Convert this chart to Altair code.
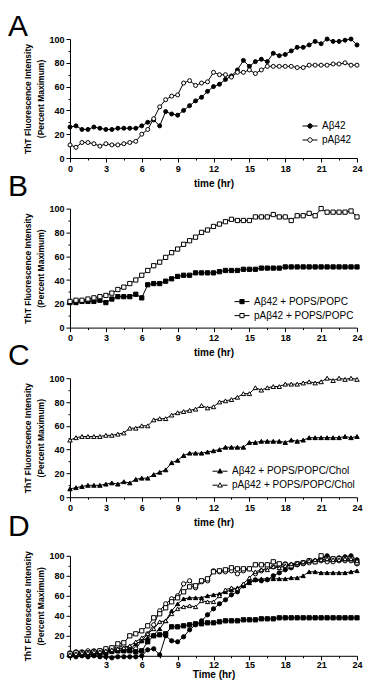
import altair as alt
import pandas as pd

FONT = "Liberation Sans"

TIME = [0, 0.5, 1, 1.5, 2, 2.5, 3, 3.5, 4, 4.5, 5, 5.5, 6, 6.5, 7, 7.5, 8, 8.5, 9, 9.5,
        10, 10.5, 11, 11.5, 12, 12.5, 13, 13.5, 14, 14.5, 15, 15.5, 16, 16.5, 17, 17.5,
        18, 18.5, 19, 19.5, 20, 20.5, 21, 21.5, 22, 22.5, 23, 23.5, 24]

XTICKS = [0, 1.5, 3, 4.5, 6, 7.5, 9, 10.5, 12, 13.5, 15, 16.5, 18, 19.5, 21, 22.5, 24]
YTICKS = [0, 10, 20, 30, 40, 50, 60, 70, 80, 90, 100]

NAMES_A = ["Aβ42", "pAβ42"]
NAMES_B = ["Aβ42 + POPS/POPC", "pAβ42 + POPS/POPC"]
NAMES_C = ["Aβ42 + POPS/POPC/Chol", "pAβ42 + POPS/POPC/Chol"]

A_AB = [26, 27, 24, 24, 26, 25, 24, 24, 25, 25, 25, 25, 27, 30, 32, 27, 39, 37, 36, 40,
        44, 48, 51, 56, 60, 62, 66, 69, 74, 82, 77, 81, 83, 81, 88, 86, 87, 90, 93, 93,
        95, 98, 96, 100, 98, 98, 99, 100, 95]
A_PAB = [11, 9, 13, 13, 12, 10, 12, 11, 11, 12, 13, 14, 20, 24, 33, 43, 49, 52, 53, 63,
         65, 61, 63, 64, 72, 70, 70, 68, 72, 72, 74, 71, 74, 77, 77, 77, 77, 77, 76, 76,
         78, 78, 78, 78, 79, 79, 80, 78, 78]

B_AB = [21, 21, 22, 22, 22, 23, 21, 24, 26, 26, 26, 28, 25, 36, 37, 37, 39, 41, 43, 44,
        44, 46, 46, 46, 46, 47, 48, 48, 48, 49, 49, 49, 50, 50, 50, 50, 51, 51, 51, 51,
        51, 51, 51, 51, 51, 51, 51, 51, 51]
B_PAB = [22, 23, 23, 24, 25, 26, 27, 29, 32, 34, 37, 40, 44, 48, 52, 55, 59, 63, 66, 70,
         73, 76, 80, 82, 85, 87, 89, 91, 90, 90, 90, 93, 93, 93, 95, 93, 93, 90, 94, 94,
         96, 94, 100, 97, 97, 97, 97, 98, 93]

C_AB = [7, 8, 9, 10, 10, 10, 11, 12, 11, 13, 12, 15, 16, 16, 19, 21, 23, 29, 31, 35,
        37, 37, 37, 38, 39, 40, 42, 42, 42, 42, 46, 46, 47, 47, 47, 47, 46, 48, 47, 48,
        50, 50, 50, 50, 50, 50, 51, 50, 51]
C_PAB = [48, 50, 51, 51, 51, 51, 52, 52, 53, 54, 58, 58, 60, 60, 65, 66, 66, 69, 71, 72,
         73, 74, 77, 75, 76, 80, 81, 82, 84, 87, 87, 92, 90, 92, 93, 93, 95, 95, 95, 96,
         97, 96, 97, 100, 98, 100, 99, 100, 99]

D_AB = [0, -1, 0, -1, 0, -1, -1, -2, -1, -1, -1, -1, 0, 6, 7, 1, 20, 15, 14, 19,
        26, 31, 35, 41, 47, 52, 56, 61, 64, 70, 74, 76, 75, 76, 80, 83, 86, 88, 91, 93,
        95, 95, 98, 100, 97, 98, 99, 100, 96]
D_PAB = [3, 4, 4, 5, 5, 5, 6, 7, 9, 10, 8, 7, 15, 22, 31, 45, 52, 57, 60, 72,
         75, 68, 74, 75, 85, 84, 84, 85, 82, 85, 87, 82, 85, 88, 89, 90, 92, 91, 92, 92,
         93, 94, 95, 94, 94, 95, 95, 95, 92]
D_ABP = [1, 2, 2, 1, 2, 2, 3, 5, 5, 5, 5, 4, 5, 14, 20, 21, 22, 29, 29, 30,
         31, 32, 32, 33, 33, 34, 35, 35, 35, 36, 36, 36, 37, 37, 37, 38, 38, 38, 38, 38,
         38, 38, 38, 38, 38, 38, 38, 38, 38]
D_PABP = [2, 3, 3, 3, 4, 5, 7, 8, 12, 13, 20, 22, 25, 30, 38, 42, 48, 54, 58, 64,
          69, 70, 75, 77, 84, 85, 86, 88, 87, 87, 87, 91, 91, 91, 94, 92, 91, 90, 92, 93,
          95, 94, 100, 97, 97, 97, 97, 97, 93]
D_ABC = [0, 1, 2, 1, 2, 3, 4, 4, 5, 6, 6, 12, 15, 18, 21, 27, 35, 45, 52, 57,
         58, 58, 58, 60, 61, 62, 64, 66, 68, 70, 73, 76, 77, 77, 77, 77, 77, 78, 78, 80,
         84, 84, 83, 83, 83, 83, 83, 84, 85]
D_PABC = [1, 2, 3, 3, 4, 4, 5, 6, 7, 8, 10, 14, 18, 22, 27, 34, 35, 42, 47, 49,
          50, 49, 55, 54, 54, 60, 66, 68, 67, 72, 78, 84, 86, 86, 89, 88, 90, 92, 93, 94,
          95, 96, 96, 97, 96, 96, 97, 97, 95]

PATH_CIRCLE = "M-1,0L-0.3,0M0.3,0L1,0M0.3,0A0.3,0.3,0,1,1,-0.3,0A0.3,0.3,0,1,1,0.3,0Z"
PATH_SQUARE = "M-1,0L-0.3,0M0.3,0L1,0M-0.28,-0.28L0.28,-0.28L0.28,0.28L-0.28,0.28Z"
PATH_TRI = "M-1,0L-0.3,0M0.3,0L1,0M0,-0.32L0.32,0.24L-0.32,0.24Z"

PLOT_W = 287
LETTER_X = -62


def x_axis(title, hide_zero, title_pad, label_pad):
    test = "datum.value % 3 === 0" + (" && datum.value > 0" if hide_zero else "")
    return alt.Axis(values=XTICKS, labelExpr=f"({test}) ? datum.label : ''",
                    tickSize={"condition": {"test": "datum.value % 3 === 0", "value": 4}, "value": 2},
                    title=title, titleFont=FONT, titleFontSize=10, titleFontWeight="bold",
                    titlePadding=title_pad, titleColor="black",
                    labelFont=FONT, labelFontSize=9, labelFontWeight="bold", labelColor="black",
                    labelPadding=label_pad, labelOverlap=False, labelFlush=False, labelBound=False,
                    domainColor="black", tickColor="black", grid=False)


def y_axis():
    return alt.Axis(values=YTICKS, labelExpr="datum.value % 20 === 0 ? datum.label : ''",
                    tickSize={"condition": {"test": "datum.value % 20 === 0", "value": 4}, "value": 2},
                    title=["ThT Fluorescence Intensity", "(Percent Maximum)"],
                    titleFont=FONT, titleFontSize=8.5, titleFontWeight="bold", titleLineHeight=13,
                    titlePadding=3, titleColor="black",
                    labelFont=FONT, labelFontSize=9, labelFontWeight="bold", labelColor="black",
                    labelPadding=2, labelOverlap=False, labelFlush=False,
                    domainColor="black", tickColor="black", grid=False)


def panel(names, series, shapes, fills, letter, letter_y, height, xtitle, xtitle_pad,
          hide_zero=False, legend_path=None, legend_xy=None, size=18, yrange=None,
          label_pad=2):
    rows = []
    for n, vals in zip(names, series):
        for tt, vv in zip(TIME, vals):
            rows.append({"t": tt, "v": vv, "s": n})
    df = pd.DataFrame(rows)
    x = alt.X("t:Q", scale=alt.Scale(domain=[0, 24], nice=False, zero=False),
              axis=x_axis(xtitle, hide_zero, xtitle_pad, label_pad))
    if yrange is not None:
        yscale = alt.Scale(domain=[0, 100], nice=False, range=yrange)
    else:
        yscale = alt.Scale(domain=[0, 100], nice=False)
    y = alt.Y("v:Q", scale=yscale, axis=y_axis())
    base = alt.Chart(df)
    line = base.mark_line(color="black", strokeWidth=1).encode(
        x=x, y=y, detail="s:N", order="t:Q")
    if legend_path is not None:
        leg = alt.Legend(orient="none", legendX=legend_xy[0], legendY=legend_xy[1], title=None,
                         symbolType=legend_path, symbolSize=225, symbolStrokeWidth=1,
                         symbolStrokeColor="black", labelFont=FONT, labelFontSize=10,
                         labelColor="black", labelOffset=4, rowPadding=1, padding=0,
                         labelLimit=300,
                         labelExpr="indexof(datum.label, 'p') === 0 ? datum.label : '\u00a0\u00a0' + datum.label")
        pts = base.mark_point(filled=True, shape=shapes[0], size=size, stroke="black",
                              strokeWidth=1, opacity=1).encode(
            x=x, y=y,
            fill=alt.Fill("s:N", scale=alt.Scale(domain=names, range=fills), legend=leg))
    else:
        pts = base.mark_point(filled=True, size=size, stroke="black", strokeWidth=1,
                              opacity=1).encode(
            x=x, y=y,
            shape=alt.Shape("s:N", scale=alt.Scale(domain=names, range=shapes), legend=None),
            fill=alt.Fill("s:N", scale=alt.Scale(domain=names, range=fills), legend=None))
    lab = alt.Chart(pd.DataFrame({"letter": [letter]})).mark_text(
        align="left", baseline="top", font=FONT, fontSize=30, fontWeight="normal",
        color="black").encode(text="letter:N", x=alt.value(LETTER_X), y=alt.value(letter_y))
    return alt.layer(line, pts, lab).properties(width=PLOT_W, height=height)


pA = panel(NAMES_A, [A_AB, A_PAB], ["circle"], ["black", "white"], "A", -27, 119,
           "time (hr)", 5, legend_path=PATH_CIRCLE, legend_xy=[232, 79], size=16)
pB = panel(NAMES_B, [B_AB, B_PAB], ["square"], ["black", "white"], "B", -37, 119,
           "time (hr)", 5, legend_path=PATH_SQUARE, legend_xy=[164, 85], size=18)
pC = panel(NAMES_C, [C_AB, C_PAB], ["triangle-up"], ["black", "white"], "C", -37, 119,
           "time (hr)", 5, legend_path=PATH_TRI, legend_xy=[142, 85], size=20)
pD = panel(NAMES_A + NAMES_B + NAMES_C, [D_AB, D_PAB, D_ABP, D_PABP, D_ABC, D_PABC],
           ["circle", "circle", "square", "square", "triangle-up", "triangle-up"],
           ["black", "white", "black", "white", "black", "white"], "D", -36, 108,
           "Time (hr)", 0, hide_zero=True, size=18, yrange=[108, 8], label_pad=1)

chart = alt.vconcat(pA, pB, pC, pD, spacing=50.6, bounds="flush").resolve_scale(
    fill="independent", shape="independent"
).resolve_legend(fill="independent", shape="independent").properties(
    padding={"top": 4, "left": 0, "right": 0, "bottom": 0}, background="white"
).configure_view(stroke=None).configure_axis(domainWidth=1, tickWidth=1)

chart.save("out.html", embed_options={"renderer": "svg", "actions": False})
